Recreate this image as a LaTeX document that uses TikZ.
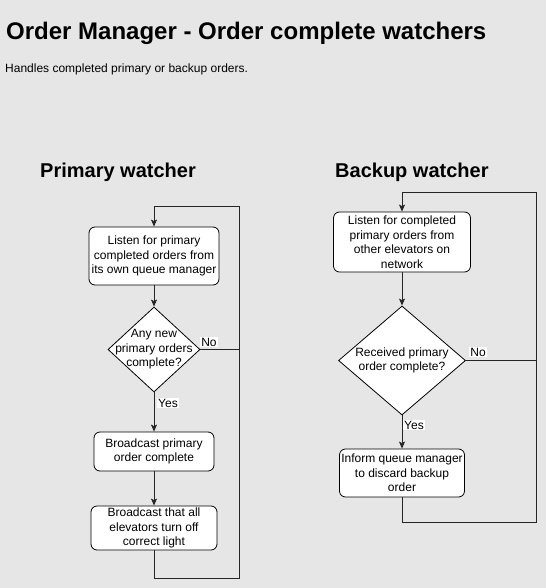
\documentclass[tikz,border=0pt]{standalone}
\usepackage{fontspec}
\setmainfont{Liberation Sans}
\usetikzlibrary{shapes.geometric,arrows.meta}
\definecolor{bg}{HTML}{E6E6E6}
\tikzset{
  txt/.style={font=\fontsize{12}{14.5}\selectfont, align=center},
  box/.style={draw=black, fill=white, rounded corners=6pt, txt, inner sep=0pt, line width=0.8pt},
  dec/.style={draw=black, fill=white, diamond, inner sep=0pt, line width=0.8pt},
  conn/.style={draw=black!85, line width=0.9pt},
  arr/.style={conn, -{Stealth[length=7pt,width=6pt,inset=1.5pt]}},
  lbl/.style={fill=white, inner sep=1pt, font=\fontsize{12}{14}\selectfont},
}
\begin{document}
\begin{tikzpicture}[x=1pt,y=-1pt]
\path[fill=bg] (0,0) rectangle (546,588);
\useasboundingbox (0,0) rectangle (546,588);

% titles
\node[anchor=base west, inner sep=0pt, font=\fontsize{24}{28}\selectfont\bfseries] (title) at (6,40) {Order Manager - Order complete watchers};
\node[anchor=base west, inner sep=0pt, font=\fontsize{12}{14}\selectfont] (sub) at (5,73) {Handles completed primary or backup orders.};
\node[anchor=base west, inner sep=0pt, font=\fontsize{20}{24}\selectfont\bfseries] (ph) at (40,177) {Primary watcher};
\node[anchor=base west, inner sep=0pt, font=\fontsize{20}{24}\selectfont\bfseries] (bh) at (335,177) {Backup watcher};

% primary column
\node[box, minimum width=130pt, minimum height=58pt] (p1) at (154,256) {Listen for primary\\completed orders from\\its own queue manager};
\node[dec, minimum width=92pt, minimum height=85pt, label={[txt]center:Any new\\primary orders\\complete?}] (p2) at (154,349.5) {};
\node[box, minimum width=120pt, minimum height=39pt] (p3) at (154,451.5) {Broadcast primary\\order complete};
\node[box, minimum width=126pt, minimum height=44pt] (p4) at (154,528) {Broadcast that all\\elevators turn off\\correct light};

\coordinate (ptl) at (154,206);
\coordinate (ptr) at (239,206);
\coordinate (pbr) at (239,578);
\coordinate (pbl) at (154,578);
\coordinate (pno) at (239,349.5);

\draw[arr] (p1) -- (p2);
\draw[arr] (p2) -- (p3);
\draw[arr] (p3) -- (p4);
\draw[conn] (p4.south) -- (pbl) -- (pbr) -- (ptr) -- (ptl);
\draw[arr] (ptl) -- (p1.north);
\draw[conn] (p2.east) -- (pno);
\node[lbl] (pnol) at (209,342) {No};
\node[lbl] (pyesl) at (168,403) {Yes};

% backup column
\node[box, minimum width=137pt, minimum height=60pt] (b1) at (402,242) {Listen for completed\\primary orders from\\other elevators on\\network};
\node[dec, minimum width=127pt, minimum height=109pt, label={[txt]center:Received primary\\order complete?}] (b2) at (402,360.5) {};
\node[box, minimum width=125pt, minimum height=48pt] (b3) at (402,473) {Inform queue manager\\to discard backup\\order};

\coordinate (btl) at (402,192);
\coordinate (btr) at (536,192);
\coordinate (bbr) at (536,522);
\coordinate (bbl) at (402,522);
\coordinate (bno) at (536,360.5);

\draw[arr] (b1) -- (b2);
\draw[arr] (b2) -- (b3);
\draw[conn] (b3.south) -- (bbl) -- (bbr) -- (btr) -- (btl);
\draw[arr] (btl) -- (b1.north);
\draw[conn] (b2.east) -- (bno);
\node[lbl] (bnol) at (478,352) {No};
\node[lbl] (byesl) at (414,425) {Yes};
\end{tikzpicture}
\end{document}
